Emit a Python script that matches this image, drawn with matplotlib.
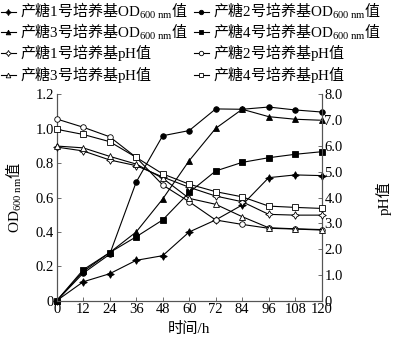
import matplotlib
matplotlib.use("Agg")
import matplotlib.pyplot as plt
from matplotlib.font_manager import FontProperties

# Culture time (h)
time_h = [0, 12, 24, 36, 48, 60, 72, 84, 96, 108, 120]

# OD600 of the four production media
od_1 = [0, 0.11, 0.157, 0.235, 0.262, 0.40, 0.47, 0.557, 0.716, 0.732, 0.728]
od_2 = [0, 0.16, 0.27, 0.69, 0.96, 0.99, 1.116, 1.114, 1.127, 1.11, 1.098]
od_3 = [0, 0.17, 0.28, 0.40, 0.592, 0.815, 1.003, 1.114, 1.071, 1.056, 1.05]
od_4 = [0, 0.18, 0.28, 0.372, 0.47, 0.63, 0.755, 0.805, 0.832, 0.852, 0.867]

# pH of the four production media
ph_1 = [5.96, 5.81, 5.46, 5.24, 4.80, 4.40, 4.06, 3.84, 3.35, 3.32, 3.32]
ph_2 = [7.05, 6.73, 6.36, 5.56, 4.49, 3.84, 3.13, 2.96, 2.81, 2.78, 2.74]
ph_3 = [6.0, 5.93, 5.6, 5.3, 4.75, 3.97, 3.74, 3.26, 2.83, 2.79, 2.76]
ph_4 = [6.65, 6.45, 6.17, 5.56, 4.92, 4.52, 4.23, 4.03, 3.67, 3.62, 3.58]

x_ticks = [0, 12, 24, 36, 48, 60, 72, 84, 96, 108, 120]
od_ticks = [0, 0.2, 0.4, 0.6, 0.8, 1.0, 1.2]
od_tick_labels = ["0", "0.2", "0.4", "0.6", "0.8", "1.0", "1.2"]
ph_ticks = [0, 1, 2, 3, 4, 5, 6, 7, 8]
ph_tick_labels = ["0", "1.0", "2.0", "3.0", "4.0", "5.0", "6.0", "7.0", "8.0"]

od_labels = [
    r"产糖$\mathrm{1}$号培养基$\mathrm{OD}_{\mathrm{600\ nm}}$值",
    r"产糖$\mathrm{2}$号培养基$\mathrm{OD}_{\mathrm{600\ nm}}$值",
    r"产糖$\mathrm{3}$号培养基$\mathrm{OD}_{\mathrm{600\ nm}}$值",
    r"产糖$\mathrm{4}$号培养基$\mathrm{OD}_{\mathrm{600\ nm}}$值",
]
ph_labels = [
    r"产糖$\mathrm{1}$号培养基$\mathrm{pH}$值",
    r"产糖$\mathrm{2}$号培养基$\mathrm{pH}$值",
    r"产糖$\mathrm{3}$号培养基$\mathrm{pH}$值",
    r"产糖$\mathrm{4}$号培养基$\mathrm{pH}$值",
]

plt.rcParams["font.family"] = ["Liberation Serif", "Noto Sans CJK SC"]
plt.rcParams["mathtext.fontset"] = "custom"
plt.rcParams["mathtext.rm"] = "Liberation Serif"
plt.rcParams["mathtext.it"] = "Liberation Serif:italic"
plt.rcParams["mathtext.bf"] = "Liberation Serif:bold"

legend_font = FontProperties(family="Noto Sans CJK SC", size=10.8)
label_font = FontProperties(family="Noto Sans CJK SC", size=11)

fig = plt.figure(figsize=(3.95, 3.46), dpi=100)
ax = fig.add_axes([0.1435, 0.1309, 0.6709, 0.596])
ax2 = ax.twinx()

star4 = (4, 1, 0)
markers = [star4, "o", "^", "s"]
sizes = [5.5, 4, 4.2, 3.8]
lw = 0.8

od_handles = []
for vals, m, ms, lab in zip([od_1, od_2, od_3, od_4], markers, sizes, od_labels):
    h, = ax.plot(time_h, vals, color="black", lw=lw, marker=m, ms=ms,
                 mfc="black", mec="black", mew=0.6, label=lab, clip_on=False,
                 zorder=3)
    od_handles.append(h)

ph_handles = []
for vals, m, ms, lab in zip([ph_1, ph_2, ph_3, ph_4], markers, sizes, ph_labels):
    h, = ax2.plot(time_h, vals, color="black", lw=lw, marker=m, ms=ms,
                  mfc="white", mec="black", mew=0.6, label=lab, clip_on=False,
                  zorder=3)
    ph_handles.append(h)

ax.set_xlim(0, 120)
ax.set_ylim(0, 1.2)
ax2.set_ylim(0, 8)
ax.set_xticks(x_ticks)
ax.set_yticks(od_ticks)
ax.set_yticklabels(od_tick_labels)
ax2.set_yticks(ph_ticks)
ax2.set_yticklabels(ph_tick_labels)

for a in (ax, ax2):
    a.spines["top"].set_visible(False)
    for s in ("left", "right", "bottom"):
        a.spines[s].set_color("#555555")
        a.spines[s].set_linewidth(0.8)
    a.tick_params(direction="in", length=3, width=0.6, color="#555555",
                  labelsize=10.5, pad=2)

ax.set_xlabel("时间/h", fontsize=11, labelpad=4)
ax.set_ylabel(r"$\mathrm{OD}_{\mathrm{600\ nm}}$值", fontproperties=label_font,
              labelpad=8)
ax2.set_ylabel("pH值", fontsize=11, labelpad=24)

order = [od_handles[0], od_handles[2], ph_handles[0], ph_handles[2],
         od_handles[1], od_handles[3], ph_handles[1], ph_handles[3]]
fig.legend(handles=order, labels=[h.get_label() for h in order],
           loc="upper left", bbox_to_anchor=(0.0, 1.0), ncol=2,
           frameon=False, prop=legend_font, handlelength=1.0,
           handletextpad=0.3, columnspacing=0.4, borderpad=0.05,
           borderaxespad=0.0, labelspacing=0.05, markerscale=0.8)

fig.savefig("out.png", dpi=100)
